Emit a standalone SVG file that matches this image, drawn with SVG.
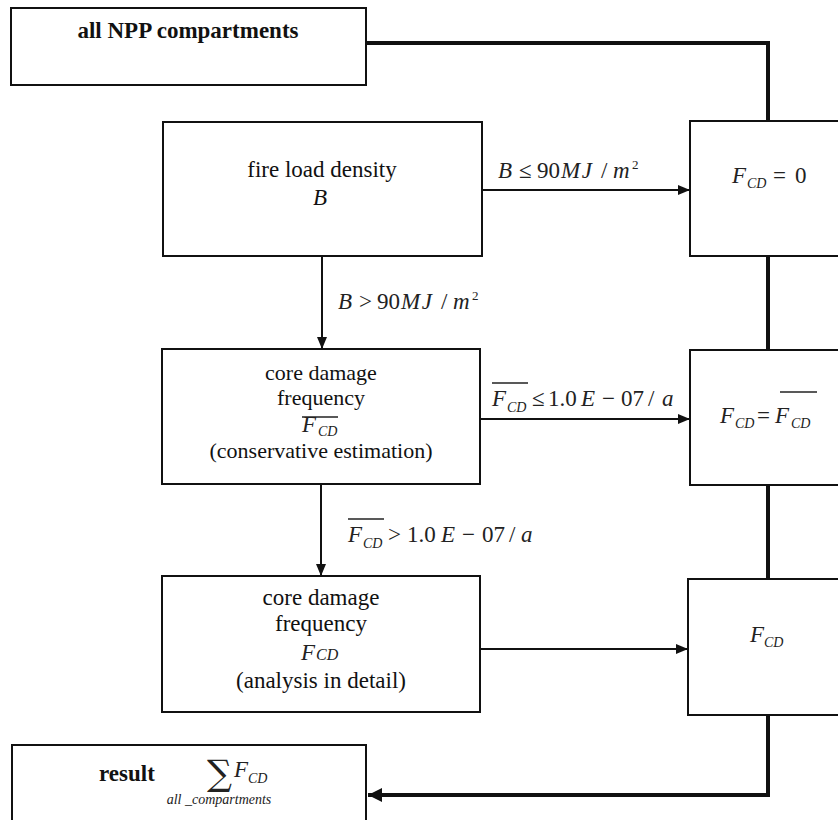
<svg xmlns="http://www.w3.org/2000/svg" width="838" height="820" viewBox="0 0 838 820">
<style>
.box{fill:#fff;stroke:#111;stroke-width:2}
.t{font-family:"Liberation Serif","Times New Roman",serif;font-size:22px;fill:#111}
.t23{font-size:23px}
.b{font-weight:bold;font-size:23px}
.m{font-family:"Liberation Serif","Times New Roman",serif;font-size:23px;fill:#222}
.i{font-style:italic}
.sub{font-style:italic;font-size:14px}
.sup{font-size:13px}
.thin{fill:none;stroke:#111;stroke-width:2}
.thick{fill:none;stroke:#111;stroke-width:4}
.bar{stroke:#222;stroke-width:1.5}
</style>
<defs>
<marker id="ah" viewBox="0 0 12 10" refX="12" refY="5" markerWidth="12" markerHeight="10" markerUnits="userSpaceOnUse" orient="auto"><path d="M0,0 L12,5 L0,10 z" fill="#111"/></marker>
<marker id="ahb" viewBox="0 0 14 14" refX="14" refY="7" markerWidth="14" markerHeight="14" markerUnits="userSpaceOnUse" orient="auto"><path d="M0,0 L14,7 L0,14 z" fill="#111"/></marker>
</defs>
<rect width="838" height="820" fill="#fff"/>
<g id="connectors">
<path class="thick" d="M366,43 H768 V121"/>
<path class="thick" d="M768,256 V350"/>
<path class="thick" d="M768,485 V579"/>
<path class="thick" d="M768,715 V795 H368" marker-end="url(#ahb)"/>
<path class="thin" d="M482,190 H690" marker-end="url(#ah)"/>
<path class="thin" d="M322,256 V349" marker-end="url(#ah)"/>
<path class="thin" d="M480,419 H690" marker-end="url(#ah)"/>
<path class="thin" d="M321,484 V576" marker-end="url(#ah)"/>
<path class="thin" d="M480,649 H688" marker-end="url(#ah)"/>
<text class="m" y="178"><tspan x="498" class="i">B</tspan><tspan x="519">≤</tspan><tspan x="537">90</tspan><tspan x="561" class="i" letter-spacing="1.5">MJ</tspan><tspan x="601">/</tspan><tspan x="613" class="i">m</tspan><tspan x="632" dy="-9" class="sup">2</tspan></text>
<text class="m" y="309"><tspan x="338" class="i">B</tspan><tspan x="359">&gt;</tspan><tspan x="377">90</tspan><tspan x="401" class="i" letter-spacing="1.5">MJ</tspan><tspan x="441">/</tspan><tspan x="453" class="i">m</tspan><tspan x="472" dy="-9" class="sup">2</tspan></text>
<g>
<line class="bar" x1="492" y1="383" x2="528" y2="383"/>
<text class="m" y="406"><tspan x="492" class="i">F</tspan><tspan x="507" dy="6" class="sub">CD</tspan><tspan x="532" dy="-6">≤</tspan><tspan x="548">1.0</tspan><tspan x="581" class="i">E</tspan><tspan x="602">−</tspan><tspan x="621">07</tspan><tspan x="648">/</tspan><tspan x="662" class="i">a</tspan></text>
</g>
<g>
<line class="bar" x1="348" y1="519" x2="384" y2="519"/>
<text class="m" y="542"><tspan x="348" class="i">F</tspan><tspan x="363" dy="6" class="sub">CD</tspan><tspan x="388" dy="-6">&gt;</tspan><tspan x="407">1.0</tspan><tspan x="441" class="i">E</tspan><tspan x="462">−</tspan><tspan x="482">07</tspan><tspan x="509">/</tspan><tspan x="521" class="i">a</tspan></text>
</g>
</g>
<g id="all-npp">
<rect class="box" x="11" y="8" width="355" height="77"/>
<text class="t b" x="188" y="38" text-anchor="middle">all NPP compartments</text>
</g>
<g id="fire-load">
<rect class="box" x="163" y="122" width="319" height="134"/>
<text class="t t23" x="322" y="177" text-anchor="middle">fire load density</text>
<text class="t t23 i" x="320" y="205" text-anchor="middle">B</text>
</g>
<g id="fcd-zero">
<rect class="box" x="690" y="121" width="160" height="135"/>
<text class="m" y="183"><tspan x="732" class="i">F</tspan><tspan x="747" dy="5" class="sub">CD</tspan><tspan x="773" dy="-5">=</tspan><tspan x="795">0</tspan></text>
</g>
<g id="cdf-conservative">
<rect class="box" x="162" y="349" width="318" height="135"/>
<text class="t" x="321" y="380" text-anchor="middle">core damage</text>
<text class="t" x="321" y="405" text-anchor="middle">frequency</text>
<line class="bar" x1="302" y1="417" x2="338" y2="417"/>
<text class="m" y="432"><tspan x="302" class="i">F</tspan><tspan x="318" dy="4" class="sub">CD</tspan></text>
<text class="t" x="321" y="458" text-anchor="middle">(conservative estimation)</text>
</g>
<g id="fcd-bar">
<rect class="box" x="690" y="350" width="160" height="135"/>
<line class="bar" x1="780" y1="392" x2="817" y2="392"/>
<text class="m" y="423"><tspan x="720" class="i">F</tspan><tspan x="735" dy="5" class="sub">CD</tspan><tspan x="757" dy="-5">=</tspan><tspan x="775" class="i">F</tspan><tspan x="791" dy="5" class="sub">CD</tspan></text>
</g>
<g id="cdf-detail">
<rect class="box" x="162" y="576" width="318" height="136"/>
<text class="t t23" x="321" y="605" text-anchor="middle">core damage</text>
<text class="t t23" x="321" y="631" text-anchor="middle">frequency</text>
<text class="m" y="660"><tspan x="301" class="i">F</tspan><tspan x="316" class="i" style="font-size:16px">CD</tspan></text>
<text class="t t23" x="321" y="688" text-anchor="middle">(analysis in detail)</text>
</g>
<g id="fcd">
<rect class="box" x="688" y="579" width="160" height="136"/>
<text class="m" y="642"><tspan x="750" class="i">F</tspan><tspan x="764" dy="5" class="sub">CD</tspan></text>
</g>
<g id="result">
<rect class="box" x="12" y="745" width="354" height="85"/>
<text class="t b" x="99" y="781">result</text>
<text x="207" y="785" font-family="'DejaVu Serif',serif" font-size="35" fill="#222">∑</text>
<text class="m" y="777"><tspan x="234" class="i">F</tspan><tspan x="248" dy="6" class="sub">CD</tspan></text>
<text class="m i" x="219" y="804" text-anchor="middle" style="font-size:14px">all _compartments</text>
</g>
</svg>
